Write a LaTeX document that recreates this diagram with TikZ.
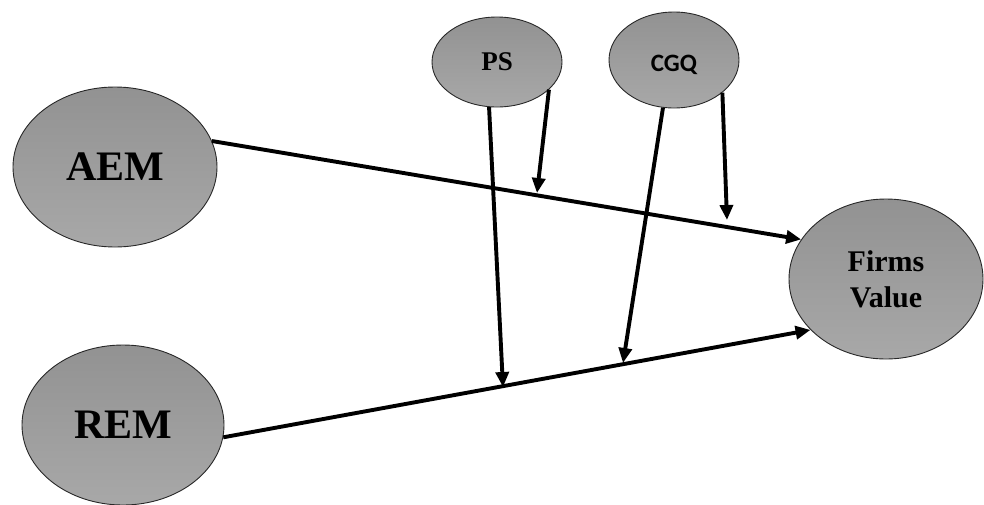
\documentclass[tikz,border=0pt]{standalone}
\usepackage{fontspec}
\setmainfont{Liberation Serif}
\newfontfamily\cgqfont{Carlito}
\usetikzlibrary{shapes.geometric,arrows.meta}
\definecolor{ellTop}{RGB}{146,146,146}
\definecolor{ellBot}{RGB}{168,168,168}
\definecolor{ellLine}{RGB}{40,40,40}
\begin{document}
\begin{tikzpicture}[x=1pt,y=-1pt,
  var/.style={ellipse,draw=ellLine,line width=0.9pt,top color=ellTop,bottom color=ellBot,
    inner sep=0pt,font=\bfseries,align=center},
  link/.style={line width=3.9pt,-{Triangle[length=15pt,width=13pt]}}]
\useasboundingbox (0,0) rectangle (984,504);
\node[var,minimum width=204pt,minimum height=160pt,font=\bfseries\fontsize{42}{42}\selectfont] (aem) at (115,167) {AEM};
\node[var,minimum width=202pt,minimum height=160pt,font=\bfseries\fontsize{42}{42}\selectfont] (rem) at (123,425) {REM};
\node[var,minimum width=130pt,minimum height=90pt,font=\bfseries\fontsize{27}{27}\selectfont] (ps) at (497,62) {PS};
\node[var,minimum width=130pt,minimum height=96pt,font=\cgqfont\bfseries\fontsize{25}{25}\selectfont,text height=22pt,text depth=0pt] (cgq) at (674,60) {CGQ};
\node[var,minimum width=194pt,minimum height=160pt,font=\bfseries\fontsize{30}{36}\selectfont] (fv) at (886,279) {Firms\\Value};
\coordinate (m1) at (537,193);
\coordinate (m2) at (727,220);
\coordinate (m3) at (503,387);
\coordinate (m4) at (623,363);
\draw[link] (aem.15.6) -- (fv.155.5);
\draw[link] (rem.-7.8) -- (fv.214);
\draw[link] (ps.260) -- (m3);
\draw[link] (ps.332) -- (m1);
\draw[link] (cgq.257) -- (m4);
\draw[link] (cgq.326) -- (m2);
\end{tikzpicture}
\end{document}
